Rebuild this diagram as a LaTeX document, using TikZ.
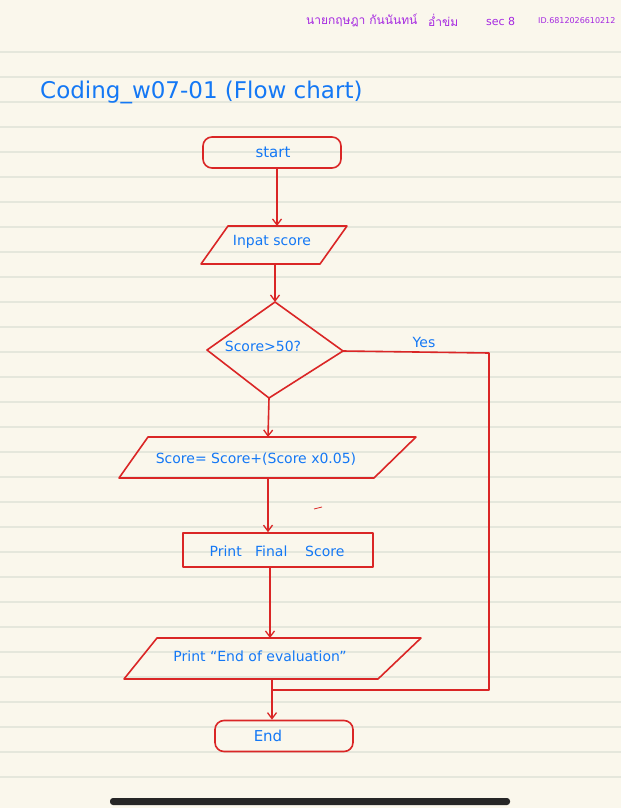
\documentclass[tikz,border=0pt]{standalone}
\usepackage{fontspec}
\setmainfont{DejaVu Sans}
\newfontfamily\thaifont[Script=Thai]{Loma}
\usetikzlibrary{arrows.meta}
\definecolor{paper}{RGB}{250,247,236}
\definecolor{rule}{RGB}{229,231,220}
\definecolor{pen}{RGB}{218,38,38}
\definecolor{ink}{RGB}{20,120,245}
\definecolor{purp}{RGB}{165,40,225}
\tikzset{
  box/.style={draw=pen, line width=1.6pt, line join=round},
  flow/.style={draw=pen, line width=1.6pt, -{Straight Barb[length=6pt,width=9pt,line width=1.3pt]}},
  plain/.style={draw=pen, line width=1.6pt},
  term/.style={box, rounded corners=9pt, minimum width=138pt, minimum height=31pt, inner sep=0pt},
  txt/.style={text=ink, font=\fontsize{14}{16}\selectfont, inner sep=0pt},
  head/.style={text=purp, font=\fontsize{11}{12}\selectfont, inner sep=0pt},
}
\begin{document}
\begin{tikzpicture}[x=1pt,y=-1pt]
\fill[paper] (0,0) rectangle (621,808);
\useasboundingbox (0,0) rectangle (621,808);
% ruled lines
\foreach \k in {0,...,29} {\draw[rule, line width=1.1pt] (0,{52+25*\k}) -- (621,{52+25*\k});}
% header
\node[head, font=\thaifont\fontsize{12}{13}\selectfont, anchor=west] (name) at (306,20) {นายกฤษฎา กันนันทน์};
\node[head, font=\thaifont\fontsize{12}{13}\selectfont, anchor=west] (sur) at (428,20) {อ่ำข่ม};
\node[head, anchor=west] (sec) at (486,21) {sec 8};
\node[head, anchor=west, font=\fontsize{8}{10}\selectfont] (id) at (538,21) {ID.6812026610212};
% title
\node[text=ink, font=\fontsize{23}{26}\selectfont, anchor=west, inner sep=0pt] (title) at (40,92) {Coding\_w07-01 (Flow chart)};
% start
\node[term] (start) at (272,152.5) {};
\node[txt, font=\fontsize{15}{17}\selectfont] (startt) at (273,152) {start};
% input
\draw[box] (228,226) -- (347,226) -- (320,264) -- (201,264) -- cycle;
\node[txt] (in) at (272,242) {Inpat score};
\coordinate (inT) at (277,226);
\coordinate (inB) at (275,264);
% decision
\coordinate (dT) at (275,302);
\coordinate (dL) at (207,350);
\coordinate (dR) at (343,351);
\coordinate (dB) at (269,398);
\draw[box] (dT) -- (dR) -- (dB) -- (dL) -- cycle;
\node[txt] (dec) at (263,346) {Score>50?};
\node[txt] (yes) at (424,342) {Yes};
% calc
\draw[box] (148,437) -- (416,437) -- (374,478) -- (119,478) -- cycle;
\node[txt] (calc) at (256,459) {Score= Score+(Score x0.05)};
\coordinate (cT) at (268,437);
\coordinate (cB) at (268,478);
% print final
\node[box, minimum width=190pt, minimum height=34pt, inner sep=0pt] (pf) at (278,550) {};
\node[txt] (pft) at (277,551) {Print \ \ Final \ \ \ Score};
% print end
\draw[box] (157,638) -- (421,638) -- (378,679) -- (124,679) -- cycle;
\node[txt] (pe) at (260,656) {Print ``End of evaluation''};
\coordinate (pT) at (270,638);
\coordinate (pB) at (272,679);
\coordinate (join) at (272,690);
% end
\node[term] (end) at (284,736) {};
\node[txt, font=\fontsize{15}{17}\selectfont] (endt) at (268,736) {End};
% connectors
\draw[flow] (start.south -| inT) -- (inT);
\draw[flow] (inB) -- (dT);
\draw[flow] (dB) -- (cT);
\draw[flow] (cB) -- (pf.north -| cB);
\draw[flow] (pf.south -| pT) -- (pT);
\draw[flow] (pB) -- (end.north -| pB);
\draw[plain, line join=round] (dR) -- (489,353) -- (489,690) -- (join);
% stray mark
\draw[pen, line width=0.8pt] (314,509) -- (322,507);
% home indicator
\fill[black!85, rounded corners=3pt] (110,798) rectangle (510,805);
\end{tikzpicture}
\end{document}
